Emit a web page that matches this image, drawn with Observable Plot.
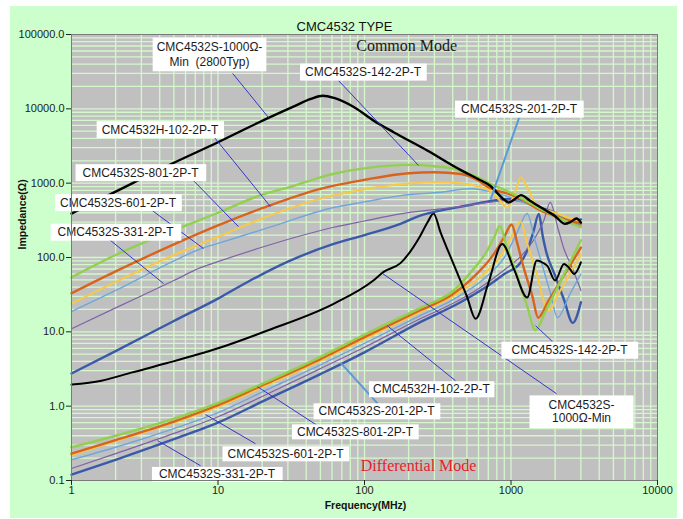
<!DOCTYPE html>
<html><head><meta charset="utf-8">
<script src="https://cdn.jsdelivr.net/npm/d3@7"></script>
<script src="https://cdn.jsdelivr.net/npm/@observablehq/plot@0.6"></script>
<style>
html,body{margin:0;padding:0;background:#fff;}
#wrap{position:relative;width:683px;height:519px;overflow:hidden;}
#bg{position:absolute;left:10px;top:6px;width:667px;height:512px;background:#ccffcc;}
#chart{position:absolute;left:0;top:0;}
</style></head><body>
<div id="wrap"><div id="bg"></div><div id="chart"></div></div>
<script>
// ---- axis ticks ----
const xTicks = [1, 10, 100, 1000, 10000];
const xTickLabels = ["1", "10", "100", "1000", "10000"];
const yTicks = [0.1, 1, 10, 100, 1000, 10000, 100000];
const yTickLabels = ["0.1", "1.0", "10.0", "100.0", "1000.0", "10000.0", "100000.0"];

// ---- Common mode curves [frequency MHz, impedance Ω] ----
const cm1000 = [[1,390],[2,770],[5,1880],[10,3550],[20,6900],[33,10800],[43,13600],[52,15000],[62,14000],[85,10500],[115,6970],[158,4840],[268,2750],[455,1500],[600,1130],[718,930],[880,620],[960,550],[1050,600],[1170,690],[1350,580],[1590,474],[2000,360],[2340,283],[2550,300],[2800,335],[3000,295]];
const cm142 = [[1,54],[2,108],[5,232],[10,400],[20,700],[33,920],[50,1200],[62,1340],[100,1580],[150,1720],[200,1760],[300,1690],[455,1480],[600,1180],[718,990],[1000,740],[1160,640],[1600,450],[2070,348],[3000,255]];
const cm102 = [[1,33],[2,65],[5,150],[10,270],[20,460],[50,840],[100,1110],[200,1360],[300,1400],[455,1330],[600,1080],[700,880],[1000,700],[1160,620],[1590,430],[2000,360],[3000,285]];
const cm801 = [[1,24],[2,47],[5,108],[10,190],[20,335],[50,620],[100,830],[200,990],[300,1030],[455,1000],[600,900],[700,820],[830,600],[940,470],[1050,700],[1170,1200],[1300,850],[1500,500],[2000,400],[3000,300]];
const cm601 = [[1,18.7],[2,36],[5,90],[7.6,131],[10,155],[21.8,250],[61.6,470],[100,560],[176,680],[330,755],[530,840],[700,780],[1000,640],[1500,470],[2000,380],[3000,270]];
const cm331 = [[1,11],[2,21],[5,49],[7.6,73],[10,88],[21.8,145],[61.6,255],[100,310],[176,386],[330,451],[500,500],[700,550],[1000,590],[1500,480],[2000,370],[3000,260]];
const cm201 = [[1,2.75],[2,5.5],[5,14],[10,28],[16.6,49],[30,88],[61.6,152],[100,200],[176,283],[240,366],[330,428],[500,500],[700,570],[1000,615],[1300,560],[1590,470],[2070,385],[2450,300],[3000,325]];

// ---- Differential mode curves [frequency MHz, impedance Ω] ----
const dm142 = [[1,0.28],[2,0.40],[5,0.68],[10,1.11],[20,2.0],[50,4.6],[100,9.2],[240,21],[405,36],[530,63],[690,125],[770,190],[840,265],[930,145],[1050,75],[1290,22],[1470,10.5],[1700,18],[1950,31],[2400,70],[3000,170]];
const dm102 = [[1,0.23],[2,0.35],[5,0.62],[10,1.03],[20,1.9],[50,4.3],[100,8.5],[240,19.5],[400,32],[530,50],[760,110],[900,190],[1010,278],[1100,160],[1220,73],[1400,30],[1530,15.5],[1800,26],[2200,50],[2600,85],[3000,136]];
const dm801 = [[1,0.22],[2,0.34],[5,0.6],[10,0.98],[20,1.8],[50,4.1],[100,8],[240,18.5],[400,30],[600,52],[850,105],[1000,183],[1160,305],[1300,147],[1500,59],[1800,19],[2100,32],[2500,59],[3000,110]];
const dm601 = [[1,0.19],[2,0.28],[5,0.5],[10,0.82],[20,1.55],[50,3.6],[100,7.0],[240,16.5],[400,27],[600,45],[800,75],[900,100],[1100,215],[1290,390],[1450,177],[1650,74],[1850,34],[2080,15.5],[2500,31],[3000,60]];
const dm331 = [[1,0.145],[2,0.23],[5,0.43],[10,0.72],[20,1.35],[50,3.2],[100,6.2],[240,15],[400,24],[600,38],[900,68],[1200,110],[1450,180],[1675,314],[1850,553],[2100,240],[2300,130],[2600,75],[3000,36]];
const dm201 = [[1,0.12],[2,0.19],[5,0.36],[10,0.6],[20,1.15],[50,2.7],[100,5.3],[240,13.5],[452,25],[700,42],[900,60],[1160,85],[1290,124],[1420,220],[1549,386],[1650,190],[1730,124],[2000,57],[2300,27],[2640,13.2],[3000,25]];
const dm1000 = [[1,1.95],[1.6,2.2],[2.6,2.85],[4.5,3.8],[10,6.0],[22,10.5],[62,24],[115,49],[135,64],[176,84],[240,195],[270,300],[296,390],[330,220],[407,80],[500,30],[573,15],[700,45],[871,152],[1050,69],[1290,29],[1500,91],[1650,85],[1770,77],[2000,49],[2300,82],[2500,72],[2700,60],[3000,86]];

// ---- styles (drawing order: first drawn at the bottom) ----
const C = {green:"#92d050", orange:"#d8641c", yellow:"#f7c948", lblue:"#6fa6dc", purple:"#7f62a8", dblue:"#3a5aa8", black:"#000000"};
const seriesStyle = [
  {data: dm201, color: C.dblue, w: 2.4},
  {data: dm331, color: C.purple, w: 1.2},
  {data: dm601, color: C.lblue, w: 1.4},
  {data: dm801, color: C.yellow, w: 2},
  {data: dm102, color: C.orange, w: 2.4},
  {data: dm142, color: C.green, w: 2.4},
  {data: dm1000, color: C.black, w: 2},
  {data: cm201, color: C.dblue, w: 2.4},
  {data: cm331, color: C.purple, w: 1.2},
  {data: cm601, color: C.lblue, w: 1.4},
  {data: cm801, color: C.yellow, w: 2},
  {data: cm102, color: C.orange, w: 2.4},
  {data: cm142, color: C.green, w: 2.4},
  {data: cm1000, color: C.black, w: 2.4}
];

// ---- callout annotations (data coordinates) ----
const callouts = [
  {text:"CMC4532S-1000Ω-\nMin  (2800Typ)", x:8.75, y:55500, px:4, py:2, lh:1.3},
  {text:"CMC4532S-142-2P-T", x:97.7, y:31800, px:5, py:1.5},
  {text:"CMC4532S-201-2P-T", x:1134, y:10090, px:6, py:1.5},
  {text:"CMC4532H-102-2P-T", x:4.02, y:5350, px:5, py:1.5},
  {text:"CMC4532S-801-2P-T", x:2.96, y:1410, px:7, py:1.5},
  {text:"CMC4532S-601-2P-T", x:2.08, y:557, px:5, py:1.5},
  {text:"CMC4532S-331-2P-T", x:2.0, y:223, px:7, py:1.5},
  {text:"CMC4532S-142-2P-T", x:2507, y:5.76, px:10, py:1.5},
  {text:"CMC4532S-\n1000Ω-Min", x:3030, y:0.843, px:19, py:3, lh:1.05},
  {text:"CMC4532H-102-2P-T", x:286, y:1.72, px:4, py:1},
  {text:"CMC4532S-201-2P-T", x:121, y:0.869, px:5, py:1},
  {text:"CMC4532S-801-2P-T", x:86.1, y:0.46, px:5, py:0.5},
  {text:"CMC4532S-601-2P-T", x:28.9, y:0.233, px:5, py:0.5},
  {text:"CMC4532S-331-2P-T", x:9.84, y:0.123, px:7, py:0.5}
];
const PC = "#3535c8", PL = "#5b9bd5";
const pointers = [
  {x1:12.6, y1:29900, x2:22.1, y2:7640, c:PC, w:1},
  {x1:66.5, y1:24000, x2:234, y2:1730, c:PC, w:1},
  {x1:1143, y1:7870, x2:725, y2:601, c:PL, w:2},
  {x1:9.46, y1:4110, x2:22.8, y2:484, c:PC, w:1},
  {x1:6.49, y1:1190, x2:13.8, y2:260, c:PC, w:1},
  {x1:3.2, y1:500, x2:7.96, y2:132, c:PC, w:1},
  {x1:1.65, y1:203, x2:4.25, y2:44.6, c:PC, w:1},
  {x1:1470, y1:12.1, x2:1920, y2:7.38, c:PC, w:1},
  {x1:133, y1:60.7, x2:2046, y2:1.47, c:PC, w:1},
  {x1:143, y1:12.1, x2:418, y2:2.2, c:PC, w:1},
  {x1:68.6, y1:3.85, x2:123, y2:1.08, c:PL, w:2},
  {x1:18.6, y1:1.83, x2:47.8, y2:0.547, c:PC, w:1},
  {x1:8.22, y1:0.77, x2:18.0, y2:0.313, c:PC, w:1},
  {x1:3.87, y1:0.344, x2:7.6, y2:0.158, c:PC, w:1}
];
const modeNotes = [
  {text:"Common Mode", x:194, y:71100, color:"#1a1a1a"},
  {text:"Differential Mode", x:234, y:0.158, color:"#e8202a"}
];

// ---- gridline positions (log decades) ----
const xGrid = [];
for (let e = 0; e < 4; e++) for (let k = 1; k <= 9; k++) { const v = k * Math.pow(10, e); if (v > 1) xGrid.push(v); }
const yGrid = [];
for (let e = -1; e < 5; e++) for (let k = 1; k <= 9; k++) { const v = k * Math.pow(10, e); if (v > 0.1 + 1e-9) yGrid.push(v); }

const xLab = new Map(xTicks.map((t, i) => [t, xTickLabels[i]]));
const yLab = new Map(yTicks.map((t, i) => [t, yTickLabels[i]]));
const CALLFILL = "#1b1b1b";

const marks = [
  Plot.frame({fill: "#c0c0c0"}),
  Plot.ruleX(xGrid, {stroke: "#d4f7cc", strokeWidth: 1.3}),
  Plot.ruleY(yGrid, {stroke: "#d4f7cc", strokeWidth: 1.3}),
  ...seriesStyle.map(s => Plot.line(s.data, {x: d => d[0], y: d => d[1], stroke: s.color, strokeWidth: s.w, curve: "monotone-x"})),
  Plot.link(pointers, {x1: "x1", y1: "y1", x2: "x2", y2: "y2", stroke: d => d.c, strokeWidth: d => d.w}),
  ...callouts.map(c => Plot.text([c], {x: "x", y: "y", text: "text", fontSize: 12, lineHeight: c.lh || 1.2, fill: CALLFILL})),
  ...modeNotes.map(n => Plot.text([n], {x: "x", y: "y", text: "text", fill: n.color, fontSize: 16, fontFamily: "'Liberation Serif', 'DejaVu Serif', serif"})),
  Plot.frame({stroke: "#7a7a7a", strokeWidth: 1}),
  Plot.axisX({ticks: xTicks, tickFormat: d => xLab.get(d), tickSize: 5, tickPadding: 1, fontSize: 11, color: "#222", label: null}),
  Plot.axisY({ticks: yTicks, tickFormat: d => yLab.get(d), tickSize: 5, tickPadding: 2, fontSize: 11, color: "#222", label: null}),
  Plot.text(["CMC4532 TYPE"], {frameAnchor: "top", text: d => d, dy: -13, dx: -20, fontSize: 13, fill: "#111"}),
  Plot.text(["Frequency(MHz)"], {frameAnchor: "bottom", text: d => d, dy: 28, dx: 1, fontSize: 10.5, fontWeight: "bold", fill: "#111"}),
  Plot.text(["Impedance(Ω)"], {frameAnchor: "left", text: d => d, dx: -49, dy: -8, rotate: -90, fontSize: 10.5, fontWeight: "bold", fill: "#111"})
];

const svg = Plot.plot({
  width: 683, height: 519,
  marginLeft: 71, marginRight: 26, marginTop: 34, marginBottom: 39,
  x: {type: "log", domain: [1, 10000]},
  y: {type: "log", domain: [0.1, 100000]},
  style: {background: "transparent", fontFamily: "'Liberation Sans', Arial, sans-serif", overflow: "visible"},
  marks
});
document.getElementById("chart").append(svg);

// white boxes behind callout texts
const groups = Array.from(svg.querySelectorAll(`g[fill="${CALLFILL}"]`));
groups.forEach((g, gi) => {
  const c = callouts[gi];
  if (!c) return;
  g.querySelectorAll("text").forEach(t => {
    const b = t.getBBox();
    const r = document.createElementNS("http://www.w3.org/2000/svg", "rect");
    r.setAttribute("x", b.x - c.px);
    r.setAttribute("y", b.y - c.py);
    r.setAttribute("width", b.width + 2 * c.px);
    r.setAttribute("height", b.height + 2 * c.py);
    r.setAttribute("fill", "#ffffff");
    r.setAttribute("stroke", "none");
    const tr = t.getAttribute("transform");
    if (tr) r.setAttribute("transform", tr);
    t.parentNode.insertBefore(r, t);
  });
});
</script></body></html>
